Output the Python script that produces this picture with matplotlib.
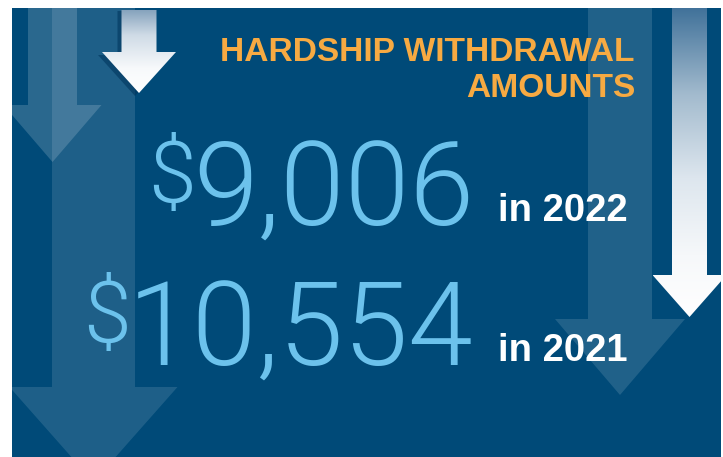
import numpy as np
import matplotlib
matplotlib.use("Agg")
import matplotlib.pyplot as plt
from matplotlib.patches import Polygon, Rectangle
from matplotlib.colors import LinearSegmentedColormap
from matplotlib import font_manager as fm

# ---- data ----
title_lines = ["HARDSHIP WITHDRAWAL", "AMOUNTS"]
amounts = [9006, 10554]
years = [2022, 2021]

# ---- styling ----
W, H = 723, 457
PANEL = "#004a78"
NUM_BLUE = "#6cc2ec"
ORANGE = "#f7aa42"

def pick_light():
    prefs = ["Roboto", "Open Sans", "Lato", "Inter", "Noto Sans", "DejaVu Sans"]
    for p in prefs:
        for f in fm.fontManager.ttflist:
            if f.name == p and isinstance(f.weight, int) and f.weight <= 300:
                return p, f.weight
    return "Liberation Sans", "normal"

light_family, light_weight = pick_light()

fig = plt.figure(figsize=(W / 100, H / 100), dpi=100)
ax = fig.add_axes([0, 0, 1, 1])
ax.set_xlim(0, W)
ax.set_ylim(H, 0)
ax.axis("off")
fig.patch.set_facecolor("white")

# panel
ax.add_patch(Rectangle((12, 8), 709, H - 8, facecolor=PANEL, edgecolor="none", zorder=0))
clip = Rectangle((12, 8), 709, H - 8, transform=ax.transData)

def arrow(cx, shaft_hw, top, head_y, head_hw, tip_y):
    return [(cx - shaft_hw, top), (cx + shaft_hw, top), (cx + shaft_hw, head_y),
            (cx + head_hw, head_y), (cx, tip_y), (cx - head_hw, head_y),
            (cx - shaft_hw, head_y)]

def flat_arrow(verts, alpha, z):
    p = Polygon(verts, closed=True, facecolor="white", alpha=alpha, edgecolor="none", zorder=z)
    ax.add_patch(p)
    p.set_clip_path(clip)

def grad_arrow(verts, stops, z):
    p = Polygon(verts, closed=True, facecolor="none", edgecolor="none", zorder=z)
    ax.add_patch(p)
    xs = [v[0] for v in verts]
    ys = [v[1] for v in verts]
    cm = LinearSegmentedColormap.from_list("g", stops)
    g = np.linspace(0, 1, 256).reshape(-1, 1)
    im = ax.imshow(g, extent=(min(xs), max(xs), max(ys), min(ys)), cmap=cm,
                   aspect="auto", origin="upper", zorder=z, interpolation="bilinear")
    im.set_clip_path(p)

# translucent arrows
flat_arrow(arrow(93.5, 41.5, 8, 387, 84, 482), 0.12, 1)
flat_arrow(arrow(52.5, 24.5, 8, 105, 49, 162), 0.17, 2)
flat_arrow(arrow(620, 32, 8, 319, 65, 395), 0.13, 1)

# shadow for top white arrow
sh = Polygon([(x - 4, y + 3) for x, y in arrow(139, 17.5, 8, 52, 37, 93)], closed=True,
             facecolor="#00365e", alpha=0.6, edgecolor="none", zorder=3)
ax.add_patch(sh)

# gradient white arrows
grad_arrow(arrow(139, 17.5, 10, 52, 37, 93),
           [(0.0, "#86a3bd"), (0.3, "#cfdbe6"), (0.7, "#f7f9fb"), (1.0, "#ffffff")], 4)
grad_arrow(arrow(689.5, 17.5, 8, 275, 37, 317),
           [(0.0, "#41729a"), (0.28, "#a3bbce"), (0.55, "#dde6ee"), (0.8, "#f6f8fa"), (1.0, "#ffffff")], 4)

# title
ax.text(635, 61, title_lines[0], ha="right", va="baseline", color=ORANGE,
        fontsize=24.1, fontweight="bold", family="Liberation Sans", zorder=10)
ax.text(635, 97, title_lines[1], ha="right", va="baseline", color=ORANGE,
        fontsize=24.1, fontweight="bold", family="Liberation Sans", zorder=10)

# numbers
num_baselines = [226, 366]
dollar_baselines = [202, 342]
year_baselines = [221, 361]
fig.canvas.draw()
renderer = fig.canvas.get_renderer()
for amt, yr, nb, db, yb in zip(amounts, years, num_baselines, dollar_baselines, year_baselines):
    t = ax.text(474, nb, f"{amt:,}", ha="right", va="baseline", color=NUM_BLUE,
                fontsize=84, family=light_family, fontweight=light_weight, zorder=10)
    bb = t.get_window_extent(renderer=renderer)
    x0 = ax.transData.inverted().transform((bb.x0, bb.y0))[0]
    ax.text(x0 + 3, db, "$", ha="right", va="baseline", color=NUM_BLUE,
            fontsize=62, family=light_family, fontweight=light_weight, zorder=10)
    ax.text(498, yb, f"in {yr}", ha="left", va="baseline", color="white",
            fontsize=27.5, fontweight="bold", family="Liberation Sans", zorder=10)

fig.savefig("out.png", dpi=100)
